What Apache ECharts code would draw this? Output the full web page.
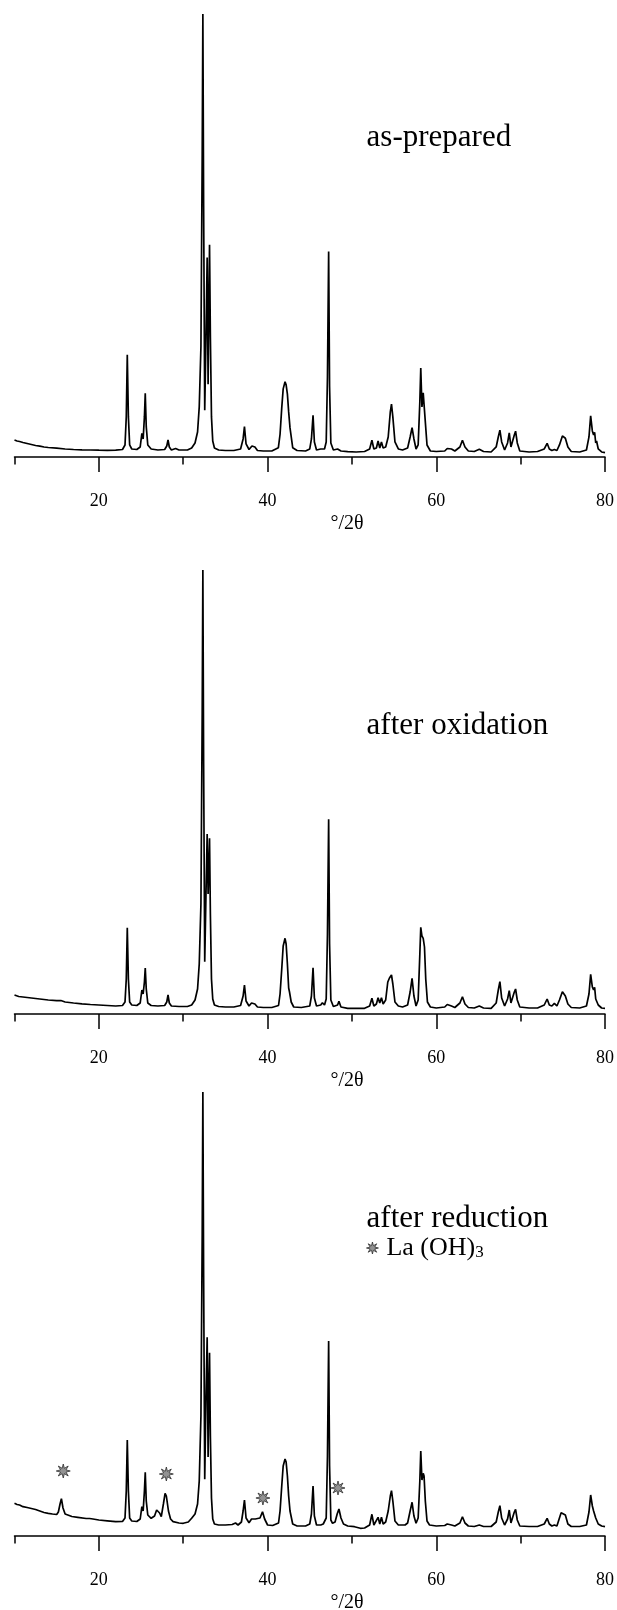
<!DOCTYPE html>
<html>
<head>
<meta charset="utf-8">
<script src="https://cdn.jsdelivr.net/npm/echarts@6/dist/echarts.min.js"></script>
<style>
html,body{margin:0;padding:0;background:#fff;}
#chart{width:617px;height:1610px;}
</style>
</head>
<body>
<div id="chart"></div>
<script>
// ---- data (2θ in degrees, relative intensity) ----
var tickLabels = [20, 40, 60, 80];
var minorTicks = [10, 30, 50, 70];
var panelNames = ['as-prepared', 'after oxidation', 'after reduction'];

var asPrepared = [
[10.0,17],[10.3,16],[10.6,15.5],[11.0,14.5],[11.5,13.5],[12.0,12.5],[12.5,11.5],[13.0,10.8],[13.5,10],[14.0,9.5],[15.0,8.8],[16.0,8],[17.0,7.5],[18.0,7.2],[19.0,7],[20.0,6.8],[21.0,6.7],[22.0,6.8],[22.8,7.5],
[23.1,12],[23.25,40],[23.37,102],[23.5,40],[23.65,12],[23.9,8],[24.5,7.5],[24.9,10],[25.1,23.7],[25.25,18],[25.4,40],[25.5,63.7],[25.62,30],[25.8,12],[26.2,8],[27.0,7],[27.8,7.5],
[28.05,11],[28.2,17],[28.35,10],[28.6,7],[29.1,8.5],[29.5,7],[30.5,7],[31.0,9],[31.4,14],[31.7,25],[31.9,50],[32.1,110],[32.25,300],[32.33,442],[32.42,250],[32.55,46.7],[32.7,120],[32.84,199],[32.95,72.7],[33.05,160],[33.12,211.7],[33.22,120],[33.35,40],[33.5,16],[33.7,9],
[34.2,7],[35.0,6.5],[36.0,6.5],[36.8,8],[37.1,18],[37.26,30.3],[37.45,13],[37.8,7.5],[38.15,11],[38.3,11.5],[38.5,10],[38.8,6.5],[39.5,6],[40.5,6],[41.28,9.3],[41.48,22.7],[41.68,49],[41.85,68],[42.07,75],[42.2,72],[42.35,62.7],[42.5,45],[42.66,29],[42.98,9.3],[43.5,6.5],[44.5,6],
[45.0,8],[45.2,18],[45.39,41.7],[45.55,15],[45.8,7],[46.3,8],[46.5,9.3],[46.75,8],[46.95,15],[47.1,80],[47.24,205],[47.35,70],[47.5,14],[47.8,7],[48.3,8],[48.46,9.3],[48.7,6],[49.5,5.3],[50.5,5],[51.5,5.5],
[52.1,8],[52.37,16.7],[52.6,8],[52.9,9],[53.1,16],[53.3,9],[53.5,15],[53.7,9],[54.0,10],[54.3,20],[54.55,45],[54.69,52.7],[54.85,40],[55.1,15],[55.5,8],[56.0,7],[56.6,9],[56.9,20],[57.13,29.3],[57.35,18],[57.6,8],
[57.85,12],[58.05,55],[58.16,88.7],[58.3,50],[58.45,64],[58.55,65],[58.7,35],[58.9,12],[59.3,6],[60.0,5.5],[61.0,6],[61.3,8.5],[61.5,9.3],[61.8,8],[62.2,6],[62.8,10],[63.1,16.7],[63.4,10],[63.8,6],[64.5,5.5],[65.1,7.7],[65.6,5.5],[66.5,5],
[67.1,10],[67.35,20],[67.54,26.7],[67.75,15],[68.1,7],[68.45,14],[68.65,24],[68.85,10],[69.05,10],[69.25,22],[69.4,25.7],[69.6,14],[69.9,6],[71.0,5],[72.0,5.5],[72.8,8],[73.14,13.7],[73.4,8],[73.7,6.5],[74.0,7.5],[74.3,6.5],[74.6,12],[74.95,21],[75.3,18.7],[75.6,10],[76.0,5.5],[77.0,5],
[77.8,7],[78.1,20],[78.3,41],[78.5,26],[78.65,22],[78.77,24.7],[78.9,14],[79.0,16],[79.2,8],[79.6,5],[80.0,4.3]
];

var afterOxidation = [
[10.0,19],[10.5,17.5],[11.0,17],[11.5,16.5],[12.0,16],[12.5,15.5],[13.0,15],[13.5,14.5],[14.0,14],[15.0,13.3],[15.5,13.5],[16.0,12],[17.0,11],[18.0,10.2],[19.0,9.5],[20.0,9],[21.0,8.5],[22.0,8],[22.8,8.5],
[23.1,12],[23.25,35],[23.37,86.3],[23.5,35],[23.65,12],[23.9,9],[24.5,8.5],[24.9,11],[25.1,24],[25.25,20],[25.4,32],[25.5,46],[25.62,25],[25.8,11],[26.2,8.5],[27.0,8],[27.8,8.5],
[28.05,12],[28.2,19],[28.35,11],[28.6,8],[29.5,7.5],[30.5,7.5],[31.0,9],[31.4,14],[31.7,25],[31.9,50],[32.1,110],[32.25,300],[32.33,444],[32.42,250],[32.55,52.3],[32.7,120],[32.84,180],[32.95,120],[33.05,150],[33.12,175.7],[33.22,100],[33.35,35],[33.5,15],[33.7,9],
[34.2,7.5],[35.0,7],[36.0,7],[36.8,8.5],[37.1,18],[37.26,29],[37.45,13],[37.8,8],[38.1,11],[38.3,12.3],[38.5,10],[38.8,7],[39.5,6.5],[40.5,6.5],[41.3,8.5],[41.48,20],[41.68,45],[41.85,68],[42.07,75.7],[42.2,70],[42.35,50],[42.5,26],[42.6,22],[42.8,12],[43.1,7],[44.0,6.5],
[45.0,8],[45.2,18],[45.39,46.3],[45.55,16],[45.8,8],[46.3,9],[46.5,11.3],[46.75,9],[46.95,15],[47.1,80],[47.24,194.7],[47.35,70],[47.5,14],[47.8,7.5],[48.3,9],[48.46,12.7],[48.7,7],[49.5,5.7],[50.5,5.7],[51.5,5.7],
[52.1,8],[52.37,15.7],[52.6,8],[52.9,10],[53.1,16.3],[53.3,11],[53.5,16.3],[53.7,10],[54.0,14],[54.25,32],[54.45,36],[54.69,39],[54.85,30],[55.1,12],[55.5,8],[56.0,7],[56.6,9],[56.9,22],[57.13,35.7],[57.35,18],[57.6,8],
[57.85,14],[58.05,60],[58.16,86.7],[58.3,78],[58.45,75.7],[58.6,67],[58.75,35],[58.95,12],[59.3,7],[60.0,6],[61.0,7],[61.3,9.5],[61.5,10.7],[61.8,8],[62.2,6.5],[62.8,11],[63.1,17.3],[63.4,10],[63.8,6.5],[64.5,6],[65.1,8],[65.6,6],[66.5,5.7],
[67.1,11],[67.35,24],[67.54,32.3],[67.75,16],[68.1,8],[68.45,15],[68.65,23.3],[68.85,11],[69.05,12],[69.25,22],[69.4,25],[69.6,14],[69.9,7],[71.0,6],[72.0,6],[72.8,9],[73.14,15],[73.4,9],[73.7,8],[74.0,10.7],[74.3,8],[74.6,14],[74.95,22.3],[75.3,18],[75.6,10],[76.0,6.5],[77.0,6],
[77.8,8],[78.1,20],[78.3,39.7],[78.5,27],[78.65,24],[78.77,26.7],[78.9,15],[79.0,14],[79.2,9],[79.6,6],[80.0,5.7]
];

var afterReduction = [
[10.0,32.7],[10.3,31.5],[10.6,31],[11.0,29.3],[11.5,28.5],[12.0,27.5],[12.5,26.5],[13.0,25],[13.5,23.5],[14.0,22.7],[14.5,22],[15.0,21.5],[15.2,24],[15.4,32],[15.56,37.3],[15.75,28],[16.0,22],[16.2,20],[16.8,19.5],[17.5,18.7],[18.5,17.5],[18.9,17.5],[19.05,19.3],[19.3,17],[20.0,16],[21.0,15.2],[22.0,14.3],[22.8,14.5],
[23.1,18],[23.25,45],[23.37,96],[23.5,45],[23.65,18],[23.9,15],[24.5,14.5],[24.9,17],[25.1,29.3],[25.25,25],[25.4,45],[25.5,63.7],[25.62,35],[25.8,21],[26.2,17.7],[26.6,20],[26.85,26],[27.0,28],[27.2,23],[27.4,19.3],[27.65,32],[27.85,42.7],[28.0,40],[28.25,25],[28.5,17],[28.8,14.3],
[29.5,13],[30.0,12.7],[30.6,14],[31.0,17.7],[31.4,22],[31.7,32],[31.9,55],[32.1,120],[32.25,300],[32.33,444],[32.42,260],[32.55,56.7],[32.7,140],[32.84,198.7],[32.95,79],[33.05,150],[33.12,183.3],[33.22,100],[33.35,38],[33.5,17],[33.7,12],
[34.2,11],[35.0,11],[35.8,11.5],[36.2,13],[36.5,11],[36.9,14],[37.1,25],[37.26,36],[37.45,18],[37.8,13.3],[38.1,17],[38.3,18.7],[38.55,17],[38.75,15.3],[39.1,18],[39.4,24.3],[39.65,17],[40.0,11],[40.6,10.5],[41.3,13],[41.48,25],[41.68,50],[41.85,70],[42.07,77],[42.2,74],[42.35,60],[42.5,40],[42.66,25],[42.98,12],[43.5,10],[44.5,10],
[45.0,12],[45.2,22],[45.39,50],[45.55,20],[45.8,11],[46.3,11],[46.6,12],[46.95,18],[47.1,80],[47.24,195],[47.35,70],[47.5,16],[47.7,12.7],[48.0,14],[48.25,22],[48.46,27],[48.7,18],[49.0,12],[49.5,10],[50.3,9.3],[51.0,7.7],[51.5,8],
[52.1,11],[52.37,21.7],[52.6,11],[52.8,11],[53.1,18.7],[53.3,12],[53.5,18.7],[53.7,12],[54.0,14],[54.3,25],[54.55,40],[54.69,45.3],[54.85,35],[55.1,15],[55.5,11],[56.3,11],[56.6,13],[56.9,25],[57.13,33.7],[57.35,20],[57.6,12.7],
[57.85,18],[58.05,55],[58.16,85],[58.3,56],[58.45,62.7],[58.55,60],[58.7,35],[58.9,15],[59.2,11],[60.0,10],[61.0,10.5],[61.3,12],[61.5,12.7],[61.8,11],[62.2,10],[62.8,13],[63.1,19.3],[63.4,13],[63.8,10],[64.5,9.5],[65.1,11],[65.6,9.5],[66.5,9.5],
[67.1,14],[67.35,24],[67.54,30.3],[67.75,18],[68.1,11],[68.45,17],[68.65,26],[68.85,13],[69.05,13],[69.25,24],[69.4,26.7],[69.6,16],[69.9,10],[71.0,9.5],[72.0,9.5],[72.8,12],[73.14,17.7],[73.4,12],[73.7,10],[74.0,11],[74.3,10],[74.6,18],[74.8,23.3],[75.0,22],[75.3,21],[75.6,12],[76.0,9.5],[77.0,9.5],
[77.8,11],[78.1,24],[78.3,41],[78.5,30],[78.65,25],[78.77,26.7],[78.9,18],[79.0,17],[79.2,12],[79.6,10],[80.0,9.3]
];

// La(OH)3 reflection markers (2θ, marker height) in the "after reduction" panel
var laOH3Marks = [[15.78,65],[28.0,62],[39.45,38],[48.35,48]];

// ---- layout ----
var SERIF = 'Liberation Serif';
var grids = [
  {left: 14.5, right: 10, top: 14, height: 443},
  {left: 14.5, right: 10, top: 570, height: 444},
  {left: 14.5, right: 10, top: 1092, height: 444}
];
var yMax = [442, 444, 444];
var datasets = [asPrepared, afterOxidation, afterReduction];
var labelY = [139.5, 727, 1220.5];
var starPath = 'path://M20,10 L13.9,11.6 L17.07,17.07 L11.6,13.9 L10,20 L8.4,13.9 L2.93,17.07 L6.1,11.6 L0,10 L6.1,8.4 L2.93,2.93 L8.4,6.1 L10,0 L11.6,6.1 L17.07,2.93 L13.9,8.4 Z';

var xAxes = [], yAxes = [], series = [], graphics = [];
for (var i = 0; i < 3; i++) {
  xAxes.push({
    type: 'value', gridIndex: i, min: 10, max: 80, position: 'bottom',
    axisLine: {show: true, lineStyle: {color: '#000', width: 1.5}},
    axisTick: {show: true, inside: false, length: 15, customValues: tickLabels, lineStyle: {color: '#000', width: 1.5}},
    axisLabel: {show: true, customValues: tickLabels, margin: 35, fontFamily: SERIF, fontSize: 18, color: '#000'},
    splitLine: {show: false}
  });
  xAxes.push({
    type: 'value', gridIndex: i, min: 10, max: 80, position: 'bottom',
    axisLine: {show: false},
    axisTick: {show: true, inside: false, length: 7.5, customValues: minorTicks, lineStyle: {color: '#000', width: 1.5}},
    axisLabel: {show: false},
    splitLine: {show: false}
  });
  yAxes.push({type: 'value', gridIndex: i, min: 0, max: yMax[i], show: false, splitLine: {show: false}});
  series.push({
    type: 'line', name: panelNames[i], xAxisIndex: i * 2, yAxisIndex: i,
    data: datasets[i], showSymbol: false, symbol: 'none',
    lineStyle: {color: '#000', width: 1.7}, smooth: false, clip: false
  });
  graphics.push({type: 'text', left: 366.6, top: labelY[i] - 17,
    style: {text: panelNames[i], font: '31px "Liberation Serif"', fill: '#000'}});
  var axisBottom = grids[i].top + grids[i].height;
  graphics.push({type: 'text', x: 347, y: axisBottom + 67,
    style: {text: '\u00B0/2\u03B8', font: '20px "Liberation Serif"', fill: '#000', align: 'center', verticalAlign: 'middle'}});
}

series.push({
  type: 'scatter', name: 'La (OH)3', xAxisIndex: 4, yAxisIndex: 2,
  data: laOH3Marks, symbol: starPath, symbolSize: 14,
  itemStyle: {color: '#777', borderColor: '#222', borderWidth: 0.9}
});

var chart = echarts.init(document.getElementById('chart'), null, {renderer: 'canvas'});
chart.setOption({
  animation: false,
  backgroundColor: '#fff',
  grid: grids,
  xAxis: xAxes,
  yAxis: yAxes,
  series: series,
  graphic: graphics,
  legend: {
    show: true, data: [{name: 'La (OH)3', icon: starPath}],
    left: 366, top: 1235, padding: 0, itemWidth: 12, itemHeight: 12,
    itemStyle: {color: '#777', borderColor: '#222', borderWidth: 0.9},
    formatter: function () { return '{m|La (OH)}{s|3}'; },
    textStyle: {
      color: '#000',
      rich: {
        m: {fontFamily: SERIF, fontSize: 26, color: '#000', padding: [0, 0, 0, 3]},
        s: {fontFamily: SERIF, fontSize: 17, color: '#000', verticalAlign: 'bottom', lineHeight: 10}
      }
    }
  }
});
</script>
</body>
</html>
